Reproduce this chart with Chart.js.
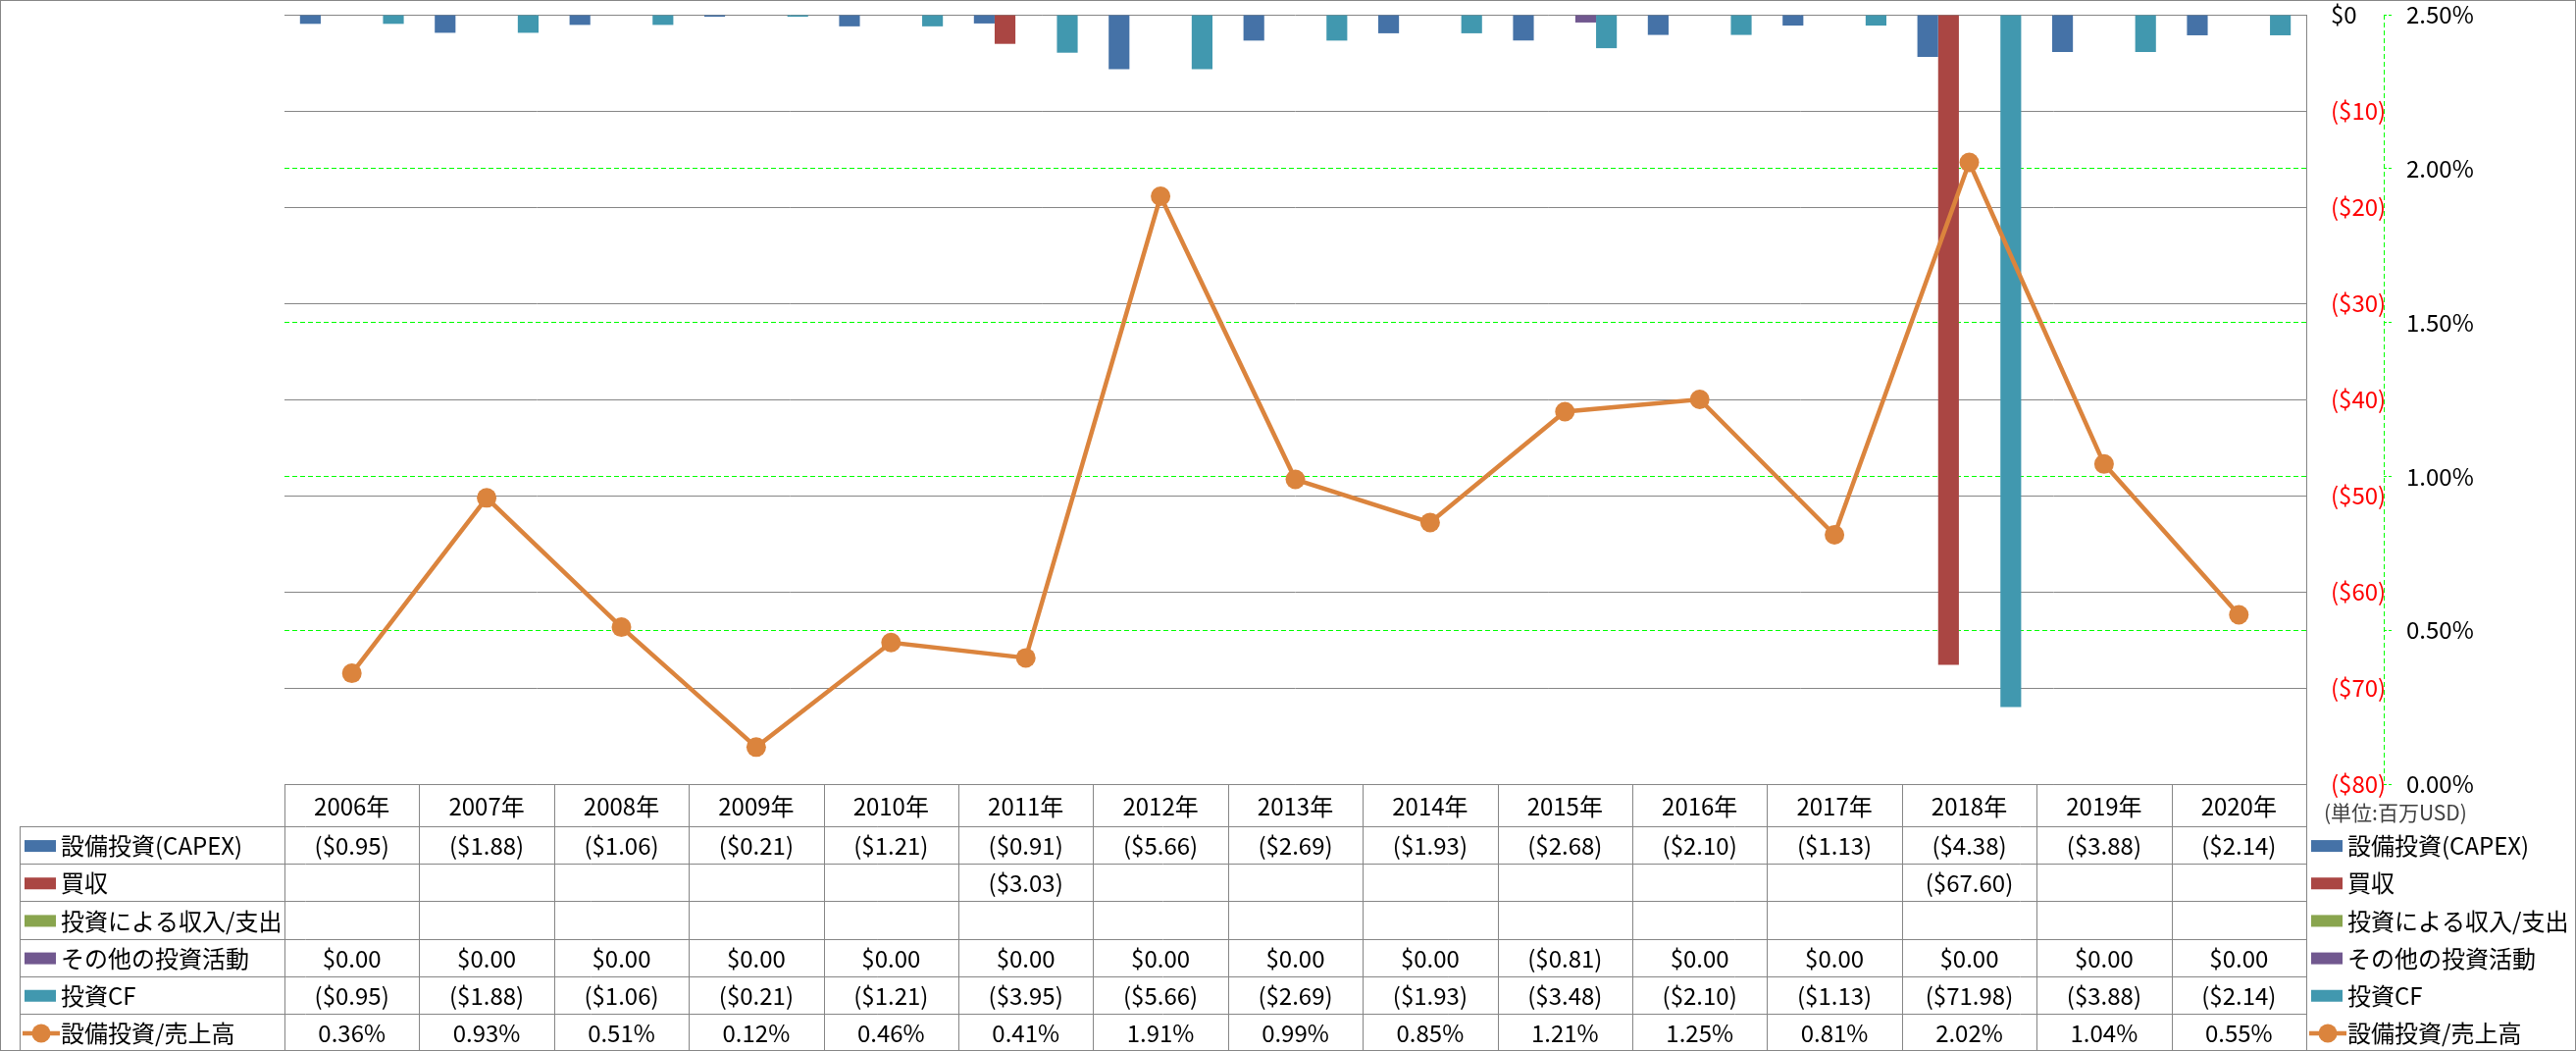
<!DOCTYPE html>
<html>
<head>
<meta charset="utf-8">
<script src="https://cdn.jsdelivr.net/npm/chart.js@4.4.1/dist/chart.umd.min.js"></script>
<style>
  html, body { margin: 0; padding: 0; background: #ffffff; }
  #wrap { position: relative; width: 2626px; height: 1071px; }
  canvas { display: block; }
</style>
</head>
<body>
<div id="wrap"><canvas id="c" width="2626" height="1071"></canvas></div>
<script>
// ---- data ----
const categories = ['2006年','2007年','2008年','2009年','2010年','2011年','2012年','2013年','2014年','2015年','2016年','2017年','2018年','2019年','2020年'];
const seriesNames = ['設備投資(CAPEX)','買収','投資による収入/支出','その他の投資活動','投資CF','設備投資/売上高'];
const capex = [-0.95,-1.88,-1.06,-0.21,-1.21,-0.91,-5.66,-2.69,-1.93,-2.68,-2.10,-1.13,-4.38,-3.88,-2.14];
const acquisitions = [null,null,null,null,null,-3.03,null,null,null,null,null,null,-67.60,null,null];
const investIncome = [null,null,null,null,null,null,null,null,null,null,null,null,null,null,null];
const otherInvest = [0,0,0,0,0,0,0,0,0,-0.81,0,0,0,0,0];
const investCF = [-0.95,-1.88,-1.06,-0.21,-1.21,-3.95,-5.66,-2.69,-1.93,-3.48,-2.10,-1.13,-71.98,-3.88,-2.14];
const capexRatio = [0.36,0.93,0.51,0.12,0.46,0.41,1.91,0.99,0.85,1.21,1.25,0.81,2.02,1.04,0.55];
const leftTicks = { min: -80, max: 0, step: 10 };
const rightTicks = { min: 0, max: 2.5, step: 0.5 };
const unitLabel = '(単位:百万USD)';

const colors = ['#4572A7','#AA4643','#89A54E','#71588F','#4198AF','#DB843D'];
const FONT = "'Noto Sans CJK JP', 'Noto Sans', sans-serif";

function fmtUSD(v) {
  if (v === null || v === undefined) return '';
  if (v < 0) return '($' + (-v).toFixed(2) + ')';
  return '$' + v.toFixed(2);
}
function fmtPct(v) { return v === null ? '' : v.toFixed(2) + '%'; }

const tableRows = [
  { name: seriesNames[0], values: capex.map(fmtUSD), color: colors[0], type: 'bar' },
  { name: seriesNames[1], values: acquisitions.map(fmtUSD), color: colors[1], type: 'bar' },
  { name: seriesNames[2], values: investIncome.map(fmtUSD), color: colors[2], type: 'bar' },
  { name: seriesNames[3], values: otherInvest.map(fmtUSD), color: colors[3], type: 'bar' },
  { name: seriesNames[4], values: investCF.map(fmtUSD), color: colors[4], type: 'bar' },
  { name: seriesNames[5], values: capexRatio.map(fmtPct), color: colors[5], type: 'line' }
];

Chart.defaults.font.family = FONT;
Chart.defaults.font.size = 24;
Chart.defaults.color = '#000000';

const TABLE_TOP = 842;
const TABLE_BOTTOM = 1071;
const GRAY = '#868686';

function drawSwatch(ctx, row, x, yc) {
  if (row.type === 'bar') {
    ctx.fillStyle = row.color;
    ctx.fillRect(x, yc - 6, 32, 12);
  } else {
    ctx.strokeStyle = row.color;
    ctx.lineWidth = 4.5;
    ctx.beginPath();
    ctx.moveTo(x - 2, yc);
    ctx.lineTo(x + 36, yc);
    ctx.stroke();
    ctx.fillStyle = row.color;
    ctx.beginPath();
    ctx.arc(x + 17, yc, 9.5, 0, Math.PI * 2);
    ctx.fill();
  }
}

const tablePlugin = {
  id: 'tablePlugin',
  afterDraw(chart) {
    const ctx = chart.ctx;
    const xs = chart.scales.x;
    const y1 = chart.scales.y1;
    const area = chart.chartArea;
    const n = categories.length;
    const colW = xs.getPixelForValue(1) - xs.getPixelForValue(0);
    const bounds = [];
    for (let i = 0; i <= n; i++) bounds.push(xs.getPixelForValue(0) - colW / 2 + i * colW);
    const rowH = (TABLE_BOTTOM - TABLE_TOP) / tableRows.length;

    ctx.save();
    // dashed secondary axis line
    ctx.strokeStyle = '#00FF00';
    ctx.lineWidth = 1;
    ctx.setLineDash([5, 3]);
    ctx.beginPath();
    ctx.moveTo(Math.round(y1.left) + 0.5, area.top);
    ctx.lineTo(Math.round(y1.left) + 0.5, area.bottom);
    ctx.stroke();
    ctx.setLineDash([]);

    // table grid
    ctx.strokeStyle = GRAY;
    ctx.lineWidth = 1;
    ctx.beginPath();
    ctx.moveTo(bounds[0], Math.round(area.bottom) + 0.5);
    ctx.lineTo(bounds[n], Math.round(area.bottom) + 0.5);
    for (let r = 0; r < tableRows.length; r++) {
      const y = Math.round(TABLE_TOP + r * rowH) + 0.5;
      ctx.moveTo(20, y);
      ctx.lineTo(bounds[n], y);
    }
    ctx.moveTo(20.5, TABLE_TOP);
    ctx.lineTo(20.5, TABLE_BOTTOM);
    for (let i = 0; i <= n; i++) {
      const x = Math.round(bounds[i]) + 0.5;
      ctx.moveTo(x, area.bottom);
      ctx.lineTo(x, TABLE_BOTTOM);
    }
    ctx.stroke();

    // table texts
    ctx.font = '24px ' + FONT;
    ctx.textBaseline = 'middle';
    tableRows.forEach((row, r) => {
      const yc = TABLE_TOP + r * rowH + rowH / 2 + 1;
      drawSwatch(ctx, row, 25, yc);
      ctx.fillStyle = '#000000';
      ctx.textAlign = 'left';
      ctx.fillText(row.name, 62, yc);
      ctx.textAlign = 'center';
      row.values.forEach((t, i) => {
        if (t) ctx.fillText(t, (bounds[i] + bounds[i + 1]) / 2, yc);
      });
      // right legend
      drawSwatch(ctx, row, 2356, yc);
      ctx.fillStyle = '#000000';
      ctx.textAlign = 'left';
      ctx.fillText(row.name, 2393, yc);
    });

    // unit label
    ctx.font = '21px ' + FONT;
    ctx.fillStyle = '#404040';
    ctx.textAlign = 'left';
    ctx.fillText(unitLabel, 2369, 828);

    // outer border
    ctx.strokeStyle = GRAY;
    ctx.lineWidth = 1;
    ctx.strokeRect(0.5, 0.5, chart.width - 1, chart.height - 1);
    ctx.restore();
  }
};

const barData = [capex, acquisitions, investIncome, otherInvest, investCF];

const datasets = [
  {
    type: 'line',
    label: seriesNames[5],
    data: capexRatio,
    yAxisID: 'y1',
    borderColor: colors[5],
    backgroundColor: colors[5],
    borderWidth: 4.5,
    pointRadius: 10,
    pointBackgroundColor: colors[5],
    pointBorderColor: colors[5],
    pointBorderWidth: 0,
    tension: 0,
    order: 0
  }
];
barData.forEach((d, i) => {
  datasets.push({
    type: 'bar',
    label: seriesNames[i],
    data: d,
    yAxisID: 'y',
    backgroundColor: colors[i],
    borderWidth: 0,
    categoryPercentage: 0.77,
    barPercentage: 1.0,
    order: 1
  });
});

function noPad(s) { s.paddingTop = 0; s.paddingBottom = 0; }

new Chart(document.getElementById('c'), {
  data: { labels: categories, datasets },
  options: {
    responsive: false,
    animation: false,
    devicePixelRatio: 1,
    layout: { padding: { left: 290, top: 15, right: 0, bottom: 0 } },
    plugins: { legend: { display: false }, tooltip: { enabled: false } },
    scales: {
      x: {
        position: 'bottom',
        grid: { display: false, drawTicks: false },
        border: { display: false },
        ticks: { padding: 8, maxRotation: 0, autoSkip: false, color: '#000000', font: { size: 24 } },
        afterFit(s) { s.height = 272; s.paddingLeft = 0; s.paddingRight = 0; }
      },
      y: {
        position: 'right',
        min: leftTicks.min, max: leftTicks.max,
        ticks: {
          stepSize: leftTicks.step,
          crossAlign: 'near',
          padding: 25,
          font: { size: 24 },
          color: (c) => (c.tick && c.tick.value < 0) ? '#FF0000' : '#000000',
          callback: (v) => v < 0 ? '($' + (-v) + ')' : '$' + v
        },
        grid: { color: GRAY, lineWidth: 1, drawTicks: false },
        border: { display: true, color: GRAY, width: 1 },
        afterFit(s) { s.width = 79; noPad(s); }
      },
      y1: {
        position: 'right',
        min: rightTicks.min, max: rightTicks.max,
        ticks: {
          stepSize: rightTicks.step,
          crossAlign: 'near',
          padding: 15,
          font: { size: 24 },
          color: '#000000',
          callback: (v) => v.toFixed(2) + '%'
        },
        grid: {
          color: (c) => (c.tick && (c.tick.value === 0 || c.tick.value === 2.5)) ? 'rgba(0,0,0,0)' : '#00FF00',
          lineWidth: 1,
          drawTicks: true,
          tickLength: 8,
          tickColor: '#00FF00',
          tickBorderDash: [3, 2]
        },
        border: { display: false, dash: [5, 3] },
        afterFit(s) { s.width = 196; noPad(s); }
      }
    }
  },
  plugins: [tablePlugin]
});
</script>
</body>
</html>
